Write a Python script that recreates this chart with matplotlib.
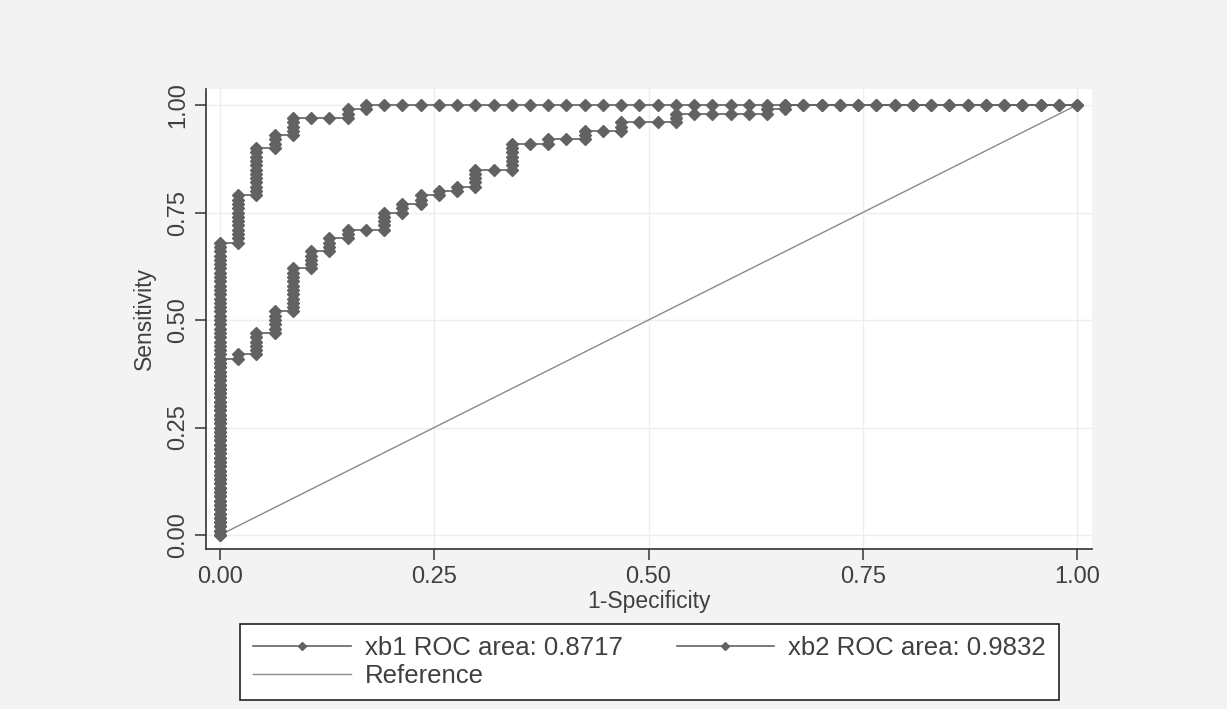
import matplotlib
matplotlib.use("Agg")
import matplotlib.pyplot as plt
import numpy as np

# ---- data ----
N_POS = 100   # positives (vertical step = 1/N_POS)
N_NEG = 47    # negatives (horizontal step = 1/N_NEG)

# cumulative count of positives reached at each 1-specificity step (k/N_NEG)
xb1_tops = [41, 42, 47, 52, 62, 66, 69, 71, 71, 75, 77, 79, 80, 81, 85, 85,
            91, 91, 92, 92, 94, 94, 96, 96, 96, 98, 98, 98, 98, 98, 99, 100] + [100] * 16
xb2_tops = [68, 79, 90, 93, 97, 97, 97, 99, 100] + [100] * 39

labels = ["xb1 ROC area: 0.8717", "xb2 ROC area: 0.9832", "Reference"]
xticks = [0.0, 0.25, 0.5, 0.75, 1.0]
yticks = [0.0, 0.25, 0.5, 0.75, 1.0]


def roc_points(tops):
    fx, fy = [], []
    prev = 0
    for k, top in enumerate(tops):
        for c in range(prev, top + 1):
            fx.append(k / N_NEG)
            fy.append(c / N_POS)
        prev = top
    return np.array(fx), np.array(fy)


plt.rcParams['font.family'] = ['Liberation Sans', 'DejaVu Sans']

fig = plt.figure(figsize=(12.27, 7.09), dpi=100)
fig.patch.set_facecolor('#f3f3f3')

W, H = 1227, 709
left, right, top, bottom = 206, 1092, 89, 549
ax = fig.add_axes([left / W, 1 - bottom / H, (right - left) / W, (bottom - top) / H])
ax.set_facecolor('white')

x0px, x1px = 220, 1077
y0px, y1px = 535, 105
sx = (x1px - x0px)
sy = (y0px - y1px)
ax.set_xlim(-(x0px - left) / sx, 1 + (right - x1px) / sx)
ax.set_ylim(-(bottom - y0px) / sy, 1 + (y1px - top) / sy)

col = '#626262'
h_ref, = ax.plot([0, 1], [0, 1], color='#8a8a8a', lw=1.0, zorder=2)
x1, y1 = roc_points(xb1_tops)
x2, y2 = roc_points(xb2_tops)
h1, = ax.plot(x1, y1, '-', color=col, lw=1.2, marker='D', ms=6.3,
              mfc=col, mec=col, zorder=3)
h2, = ax.plot(x2, y2, '-', color=col, lw=1.2, marker='D', ms=6.3,
              mfc=col, mec=col, zorder=3)

ax.set_xticks(xticks)
ax.set_yticks(yticks)
ax.set_xticklabels([f"{v:.2f}" for v in xticks])
ax.set_yticklabels([f"{v:.2f}" for v in yticks], rotation=90, va='center')
ax.grid(True, color='#eeeeee', lw=1.0)
ax.set_axisbelow(True)

for s in ['top', 'right']:
    ax.spines[s].set_visible(False)
for s in ['left', 'bottom']:
    ax.spines[s].set_color('#333333')
    ax.spines[s].set_linewidth(1.2)
ax.tick_params(axis='both', direction='out', length=8, width=1.1, color='#333333',
               labelsize=17, labelcolor='#404040', pad=4)

ax.set_xlabel("1-Specificity", fontsize=16.5, color='#404040', labelpad=2)
ax.set_ylabel("Sensitivity", fontsize=16.5, color='#404040', labelpad=8)

# row-major order: matplotlib fills columns first
order = [0, 2, 1]
handles = [h1, h2, h_ref]
leg = fig.legend([handles[i] for i in order], [labels[i] for i in order], ncol=2,
                 loc='center',
                 bbox_to_anchor=((237 + 1062) / 2 / W, 1 - 662 / H),
                 fontsize=18.5, frameon=True, fancybox=False, edgecolor='#222222',
                 facecolor='white', framealpha=1, numpoints=1,
                 handlelength=3.8, handletextpad=0.55, columnspacing=2.1,
                 labelspacing=0.12, borderpad=0.5, borderaxespad=0)
for t in leg.get_texts():
    t.set_color('#404040')
leg.get_frame().set_linewidth(1.2)
for lh in leg.legend_handles:
    lh.set_markersize(4.5)

fig.savefig("out.png", dpi=100, facecolor=fig.get_facecolor())
